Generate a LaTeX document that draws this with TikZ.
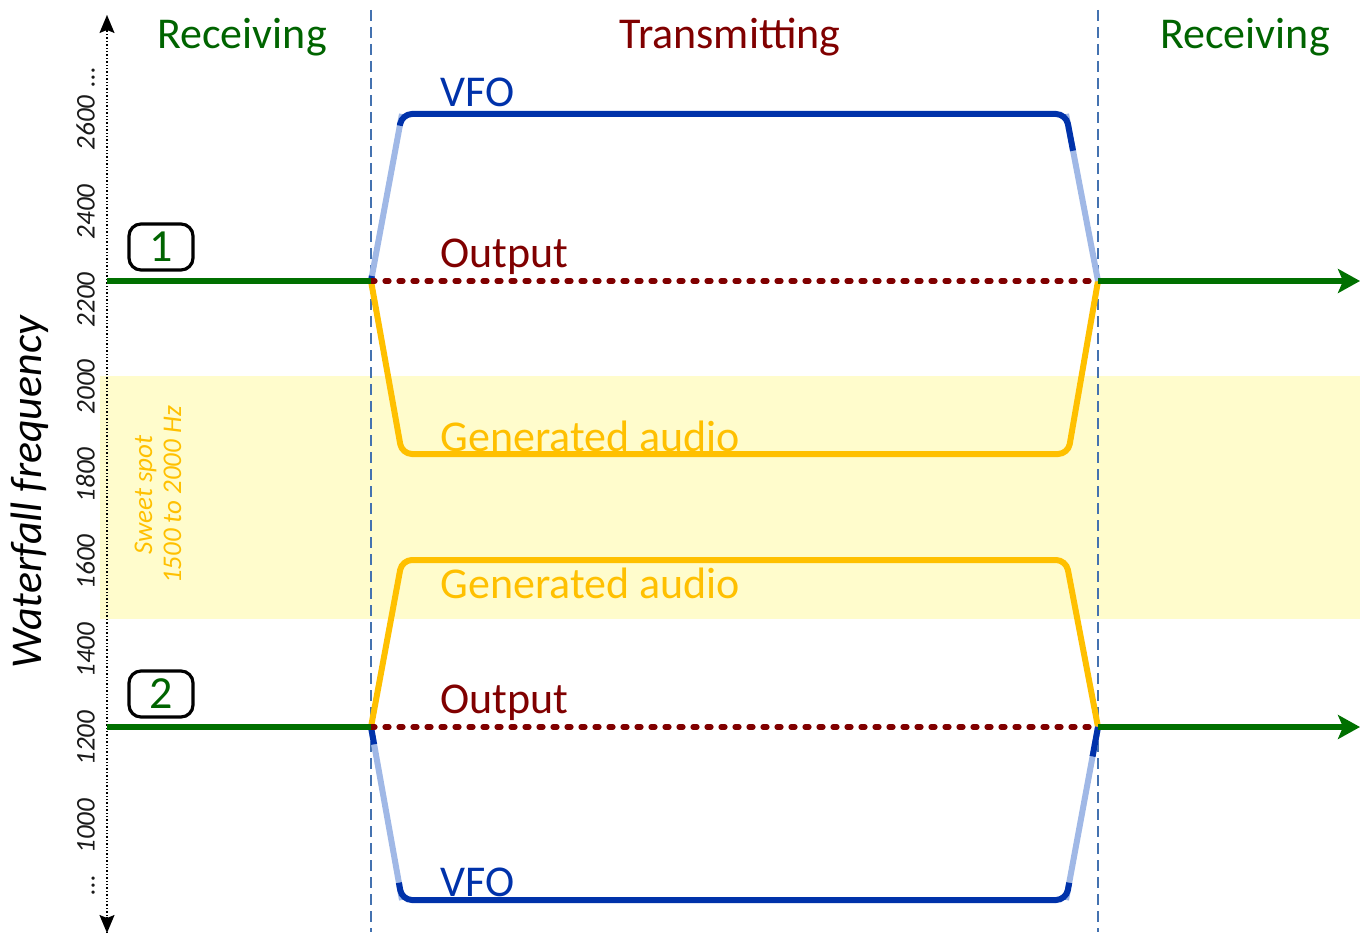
\documentclass[tikz,border=0pt]{standalone}
\usepackage{fontspec}
\setmainfont{Carlito}
\usetikzlibrary{arrows.meta, calc}
\definecolor{rxgreen}{RGB}{0,100,0}
\definecolor{rxline}{RGB}{0,112,0}
\definecolor{txred}{RGB}{128,0,0}
\definecolor{vfoblue}{RGB}{0,50,170}
\definecolor{rampblue}{RGB}{160,184,230}
\definecolor{audiogold}{RGB}{255,192,0}
\definecolor{sweetfill}{RGB}{255,252,204}
\definecolor{phaseblue}{RGB}{68,114,176}
\tikzstyle{phase} = [phaseblue, line width=0.8pt, dash pattern=on 5.5pt off 3pt]
\tikzstyle{header} = [font=\fontsize{22}{26}\selectfont]
\tikzstyle{tracename} = [font=\fontsize{22}{26}\selectfont, anchor=west, inner sep=0pt]
\tikzstyle{tick} = [font=\fontsize{13.5}{16}\selectfont\itshape, rotate=90, text=black!90, text height=8.5pt, text depth=0pt, inner sep=0pt]
\tikzstyle{axis} = [black, line width=0.7pt, densely dotted]
\tikzstyle{axistip} = [black, line width=0.7pt, solid, -{Stealth[length=9pt, width=7.5pt, inset=1.5pt]}]
\tikzstyle{rxpath} = [rxline, line width=3pt]
\tikzstyle{arrow} = [-{Stealth[length=11pt, width=12pt, inset=2.5pt]}]
\tikzstyle{outputline} = [txred, line width=2.6pt, line cap=round, dash pattern=on 2pt off 5pt]
\tikzstyle{vfo} = [vfoblue, line width=3pt, rounded corners=5pt]
\tikzstyle{vforamp} = [rampblue, line width=3pt]
\tikzstyle{audio} = [audiogold, line width=3pt, rounded corners=5pt]
\tikzstyle{marker} = [draw=black, line width=1.6pt, rounded corners=6pt, minimum width=32pt, minimum height=23pt, text=rxgreen, font=\fontsize{23}{26}\selectfont]

\begin{document}
\begin{tikzpicture}[x=0.5pt, y=-0.5pt]
    \useasboundingbox (0,0) rectangle (1368,936);

    % sweet spot band
    \fill[sweetfill] (100,376) rectangle (1360,619);
    \node[rotate=90, align=center, text=audiogold, font=\fontsize{13.5}{14.5}\selectfont\itshape] (sweet) at (158,495) {Sweet spot\\1500 to 2000 Hz};

    % key points
    \coordinate (axtop) at (107,15);
    \coordinate (axbot) at (107,933);
    \coordinate (start1) at (107,281);
    \coordinate (start2) at (107,727);
    \coordinate (in1) at (371,281);
    \coordinate (out1) at (1098,281);
    \coordinate (in2) at (371,727);
    \coordinate (out2) at (1098,727);
    \coordinate (end1) at (1360,281);
    \coordinate (end2) at (1360,727);
    \coordinate (vfoA1) at (402,114);
    \coordinate (vfoB1) at (1066,114);
    \coordinate (vfoA2) at (402,900);
    \coordinate (vfoB2) at (1066,900);
    \coordinate (audA1) at (402,454);
    \coordinate (audB1) at (1068,454);
    \coordinate (audA2) at (402,560);
    \coordinate (audB2) at (1066,560);

    % phase borders
    \draw[phase] (371,10) -- (371,932);
    \draw[phase] (1098,10) -- (1098,932);

    % headers
    \node[header, text=rxgreen] (rx1) at (242,37) {Receiving};
    \node[header, text=txred] (tx) at (730,37) {Transmitting};
    \node[header, text=rxgreen] (rx2) at (1245,37) {Receiving};

    % axis
    \draw[axis] (axbot) -- (axtop);
    \draw[axistip] ($(axtop)+(0,16)$) -- (axtop);
    \draw[axistip] ($(axbot)+(0,-16)$) -- (axbot);
    \node[rotate=90, font=\fontsize{22}{26}\selectfont\itshape] (wflabel) at (30,492) {Waterfall frequency};
    \node[tick] (t2600) at (86,123) {2600};
    \node[tick] (tup) at (86,77) {...};
    \foreach \f/\y in {2400/212, 2200/300, 2000/387, 1800/475, 1600/562, 1400/650, 1200/738, 1000/826}
        \node[tick] (t\f) at (86,\y) {\f};
    \node[tick] (tdown) at (86,885) {...};

    % generated audio
    \draw[audio] (in1) -- (audA1) -- (audB1) -- (out1);
    \draw[audio] (in2) -- (audA2) -- (audB2) -- (out2);

    % vfo
    \draw[vforamp] (in1) -- (vfoA1);
    \draw[vforamp] (vfoB1) -- (out1);
    \draw[vforamp] (in2) -- (vfoA2);
    \draw[vforamp] (vfoB2) -- (out2);
    \draw[vfo] ($(in1)!0.93!(vfoA1)$) -- (vfoA1) -- (vfoB1) -- ($(out1)!0.78!(vfoB1)$);
    \draw[vfo] ($(in2)!0.9!(vfoA2)$) -- (vfoA2) -- (vfoB2) -- ($(out2)!0.9!(vfoB2)$);
    \draw[vfoblue, line width=3pt] (in1) -- ($(in1)!0.03!(vfoA1)$);
    \draw[vfoblue, line width=3pt] (in2) -- ($(in2)!0.1!(vfoA2)$);
    \draw[vfoblue, line width=3pt] (out2) -- ($(out2)!0.17!(vfoB2)$);

    % output
    \draw[outputline] (in1) -- (out1);
    \draw[outputline] (in2) -- (out2);

    % receive lines
    \draw[rxpath] (start1) -- (in1);
    \draw[rxpath, arrow] (out1) -- (end1);
    \draw[rxpath] (start2) -- (in2);
    \draw[rxpath, arrow] (out2) -- (end2);

    % labels
    \node[tracename, text=vfoblue] (vfo1) at (440,92) {VFO};
    \node[tracename, text=txred] (output1) at (440,257) {Output};
    \node[tracename, text=audiogold] (audio1) at (440,436) {Generated audio};
    \node[tracename, text=audiogold] (audio2) at (440,583) {Generated audio};
    \node[tracename, text=txred] (output2) at (440,703) {Output};
    \node[tracename, text=vfoblue] (vfo2) at (440,882) {VFO};

    \node[marker] (mark1) at (161,247) {1};
    \node[marker] (mark2) at (161,694) {2};

\end{tikzpicture}
\end{document}
